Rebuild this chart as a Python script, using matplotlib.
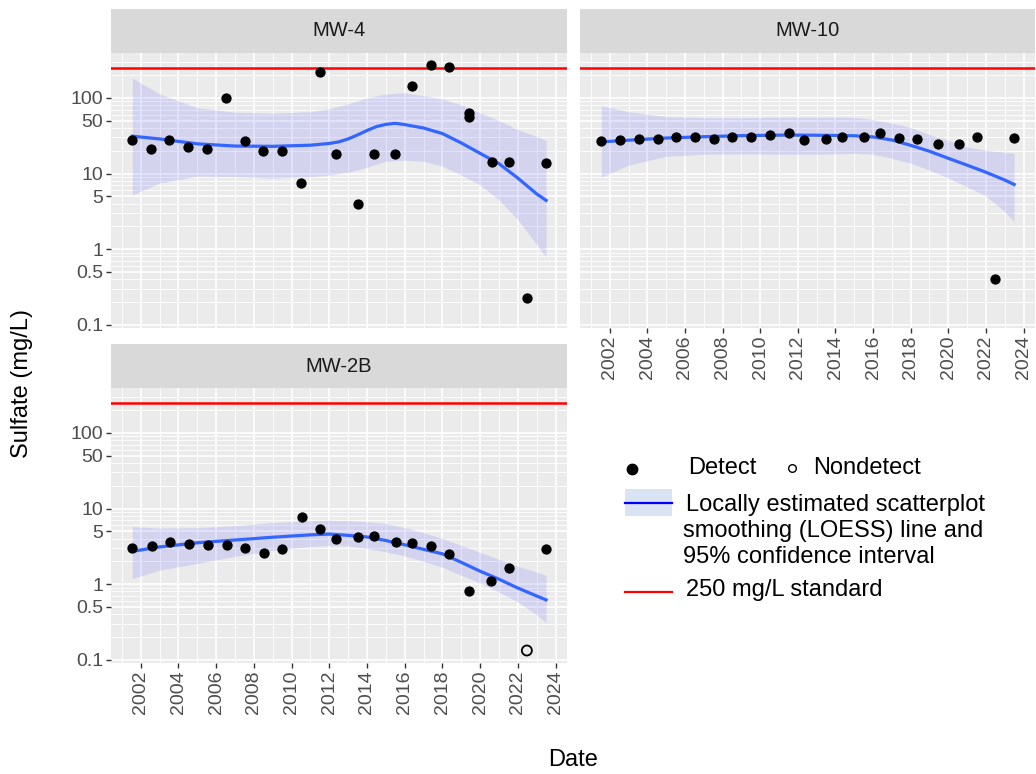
import numpy as np
import matplotlib
matplotlib.use("Agg")
import matplotlib.pyplot as plt
from matplotlib.lines import Line2D
from matplotlib.patches import Rectangle

plt.rcParams['font.family'] = ['Liberation Sans', 'DejaVu Sans']

# --- data ---
mw4_year = [2001.55, 2002.55, 2003.52, 2004.52, 2005.53, 2006.52, 2007.53, 2008.50,
            2009.49, 2010.50, 2011.51, 2012.36, 2013.51, 2014.37, 2015.50, 2016.39,
            2017.38, 2018.35, 2019.42, 2019.42, 2020.61, 2021.54, 2022.50, 2023.49]
mw4_conc = [28.0, 21.3, 28.0, 22.4, 21.3, 99, 26.8, 19.7, 19.7, 7.4, 222, 18.3,
            3.94, 18.3, 18.3, 143, 269, 256, 62.5, 55.3, 14.2, 14.2, 0.228, 13.7]

mw10_year = [2001.52, 2002.57, 2003.55, 2004.56, 2005.55, 2006.54, 2007.53, 2008.52,
             2009.51, 2010.52, 2011.51, 2012.34, 2013.52, 2014.37, 2015.52, 2016.37,
             2017.38, 2018.35, 2019.46, 2020.59, 2021.53, 2022.50, 2023.51]
mw10_conc = [26.6, 28.0, 28.8, 28.6, 30.3, 30.1, 28.2, 30.1, 30.3, 32.5, 34.1, 27.4,
             28.6, 30.3, 30.3, 34.1, 29.8, 28.6, 24.5, 24.5, 30.3, 0.40, 29.8]

mw2b_year = [2001.55, 2002.58, 2003.55, 2004.58, 2005.55, 2006.56, 2007.53, 2008.52,
             2009.51, 2010.54, 2011.52, 2012.36, 2013.54, 2014.39, 2015.54, 2016.40,
             2017.38, 2018.36, 2019.42, 2020.57, 2021.53, 2022.48, 2023.47]
mw2b_conc = [3.03, 3.18, 3.58, 3.38, 3.24, 3.24, 2.99, 2.60, 2.88, 7.78, 5.37, 3.89,
             4.17, 4.30, 3.58, 3.48, 3.18, 2.53, 0.817, 1.09, 1.61, 0.132, 2.88]
mw2b_nondetect = [False] * 21 + [True, False]

# LOESS fit and 95% band, as drawn
mw4_fit_year = [2001.55, 2003, 2005, 2007, 2009, 2011, 2012, 2012.5, 2013, 2013.5,
                2014, 2014.5, 2015, 2015.5, 2016, 2017, 2018, 2019, 2020, 2021, 2022,
                2023, 2023.5]
mw4_fit = [31.2, 28.7, 24.7, 23.1, 22.9, 23.7, 25.0, 26.2, 28.7, 32.4, 37.1, 41.8,
           44.7, 46.2, 44.4, 40.0, 33.8, 25.4, 18.5, 13.5, 8.7, 5.37, 4.41]
mw4_hi = [183, 113, 74.2, 64.8, 62.8, 65.8, 71.9, 77.6, 83.7, 91.6, 100, 107, 113,
          115, 117, 107, 97.3, 81.2, 63.8, 50.1, 38.2, 30.9, 27.4]
mw4_lo = [5.21, 7.48, 9.25, 9.1, 8.71, 9.1, 9.53, 9.97, 10.4, 11.2, 12.1, 13.3, 14.5,
          14.8, 15.0, 14.5, 12.5, 9.53, 7.05, 4.48, 2.45, 1.15, 0.78]

fit_year = [2001.55, 2003, 2005, 2007, 2009, 2011, 2012, 2013, 2014, 2015, 2016,
            2017, 2018, 2019, 2020, 2021, 2022, 2023, 2023.5]
mw10_fit = [26.2, 27.6, 29.5, 30.7, 31.7, 32.2, 32.2, 32.1, 31.9, 31.6, 30.5, 27.8,
            23.6, 19.7, 15.9, 12.9, 10.4, 8.2, 7.16]
mw10_hi = [78.8, 65.8, 56.5, 54.8, 54.8, 55.6, 55.6, 55.6, 55.6, 55.6, 51.6, 46.5,
           40.5, 32.8, 27.4, 22.5, 20.3, 19.1, 18.5]
mw10_lo = [8.97, 12.9, 16.9, 18.0, 18.2, 18.0, 18.0, 18.0, 18.2, 18.5, 18.0, 15.9,
           13.7, 11.1, 8.71, 6.63, 5.06, 3.12, 2.31]
mw2b_fit = [2.71, 3.10, 3.52, 3.83, 4.17, 4.48, 4.59, 4.41, 4.20, 3.77, 3.31, 2.88,
            2.51, 1.94, 1.48, 1.16, 0.886, 0.696, 0.617]
mw2b_hi = [5.76, 5.50, 5.58, 5.93, 6.50, 6.90, 7.00, 6.90, 6.69, 6.30, 5.58, 4.80,
           4.01, 3.24, 2.63, 2.13, 1.72, 1.44, 1.31]
mw2b_lo = [1.18, 1.53, 1.88, 2.33, 2.79, 3.15, 3.24, 3.20, 2.96, 2.67, 2.36, 2.00,
           1.67, 1.31, 1.03, 0.785, 0.581, 0.392, 0.308]

standard = 250
y_breaks = [0.1, 0.5, 1, 5, 10, 50, 100]
y_labels = ['0.1', '0.5', '1', '5', '10', '50', '100']
x_breaks = list(range(2002, 2025, 2))

W, H = 1036, 774
fig = plt.figure(figsize=(W / 100, H / 100), dpi=100)


def px_axes(x0, y0, x1, y1, **kw):
    return fig.add_axes([x0 / W, 1 - y1 / H, (x1 - x0) / W, (y1 - y0) / H], **kw)


# shared scales like ggplot (5% expansion)
all_years = mw4_year + mw10_year + mw2b_year
xr = max(all_years) - min(all_years)
xlim = (min(all_years) - 0.05 * xr, max(all_years) + 0.05 * xr)
all_y = np.log10(mw4_conc + mw10_conc + mw2b_conc + [standard])
yr = all_y.max() - all_y.min()
ylim = (10 ** (all_y.min() - 0.05 * yr), 10 ** (all_y.max() + 0.05 * yr))

minor_y = [m * 10.0 ** e for e in range(-2, 3) for m in range(2, 10)]
minor_y = [v for v in minor_y if v not in y_breaks]


def panel(box, title, years, conc, fyear, fit, lo, hi, nondetect=None, xlab=False, ylab=False):
    x0, y0, x1, y1 = box
    ax = px_axes(x0, y0, x1, y1)
    ax.set_facecolor('#EBEBEB')
    ax.set_yscale('log')
    ax.set_xlim(xlim)
    ax.set_ylim(ylim)
    for s in ax.spines.values():
        s.set_visible(False)
    for v in minor_y:
        ax.axhline(v, color='white', lw=0.6, zorder=0.5)
    for v in range(2001, 2025, 2):
        ax.axvline(v, color='white', lw=0.6, zorder=0.5)
    for v in y_breaks:
        ax.axhline(v, color='white', lw=1.2, zorder=0.6)
    for v in x_breaks:
        ax.axvline(v, color='white', lw=1.2, zorder=0.6)
    ax.set_yticks(y_breaks)
    ax.set_yticklabels(y_labels if ylab else [])
    ax.minorticks_off()
    ax.set_xticks(x_breaks)
    ax.set_xticklabels([str(b) for b in x_breaks] if xlab else [], rotation=90)
    ax.tick_params(axis='y', length=3.5 if ylab else 0, width=1, color='#333333',
                   labelcolor='#4D4D4D', labelsize=14, pad=2)
    ax.tick_params(axis='x', length=3.5 if xlab else 0, width=1, color='#333333',
                   labelcolor='#4D4D4D', labelsize=14, pad=2)

    ax.fill_between(fyear, lo, hi, color='blue', alpha=0.1, lw=0, zorder=2)
    ax.plot(fyear, fit, color='#3366FF', lw=2.3, zorder=3, solid_joinstyle='round')
    ax.axhline(standard, color='red', lw=1.8, zorder=3)

    yrs = np.array(years)
    cc = np.array(conc)
    nd = np.zeros(len(yrs), bool) if nondetect is None else np.array(nondetect)
    ax.scatter(yrs[~nd], cc[~nd], s=55, color='black', lw=0, zorder=4)
    ax.scatter(yrs[nd], cc[nd], s=52, facecolor='none', edgecolor='black', lw=1.3, zorder=4)

    st = px_axes(x0, y0 - 44, x1, y0)
    st.set_facecolor('#D9D9D9')
    st.set_xticks([])
    st.set_yticks([])
    for s in st.spines.values():
        s.set_visible(False)
    st.text(0.5, 0.5, title, ha='center', va='center', fontsize=14.5, color='#1A1A1A')
    return ax


panel((111, 53, 567, 328), 'MW-4', mw4_year, mw4_conc, mw4_fit_year, mw4_fit, mw4_lo,
      mw4_hi, ylab=True)
panel((580, 53, 1035, 328), 'MW-10', mw10_year, mw10_conc, fit_year, mw10_fit, mw10_lo,
      mw10_hi, xlab=True)
panel((111, 388, 567, 663), 'MW-2B', mw2b_year, mw2b_conc, fit_year, mw2b_fit, mw2b_lo,
      mw2b_hi, nondetect=mw2b_nondetect, xlab=True, ylab=True)

fig.text(22 / W, 1 - 383 / H, 'Sulfate (mg/L)', rotation=90, ha='center', va='center',
         fontsize=17)
fig.text(573 / W, 1 - 760 / H, 'Date', ha='center', va='center', fontsize=17)

# custom legend, drawn in pixel space
lg = fig.add_axes([0, 0, 1, 1], zorder=10)
lg.set_xlim(0, W)
lg.set_ylim(H, 0)
lg.axis('off')
lg.plot([632], [469], 'o', color='black', ms=7.5)
lg.text(688, 468, 'Detect', fontsize=17, va='center')
lg.plot([792], [468], 'o', mfc='none', mec='black', ms=5.5, mew=1)
lg.text(813, 468, 'Nondetect', fontsize=17, va='center')
lg.add_patch(Rectangle((625, 489), 47, 27, color='#DAE3F3', lw=0))
lg.add_line(Line2D([625, 647], [503, 503], color='blue', lw=1.6))
lg.add_line(Line2D([649, 672], [503, 503], color='blue', lw=1.6))
lg.text(686, 505, 'Locally estimated scatterplot', fontsize=17, va='center')
lg.text(683, 531, 'smoothing (LOESS) line and', fontsize=17, va='center')
lg.text(683, 557, '95% confidence interval', fontsize=17, va='center')
lg.add_line(Line2D([625, 647], [592, 592], color='red', lw=1.6))
lg.add_line(Line2D([649, 672], [592, 592], color='red', lw=1.6))
lg.text(686, 590, '250 mg/L standard', fontsize=17, va='center')

fig.savefig('out.png', dpi=100, facecolor='white')
